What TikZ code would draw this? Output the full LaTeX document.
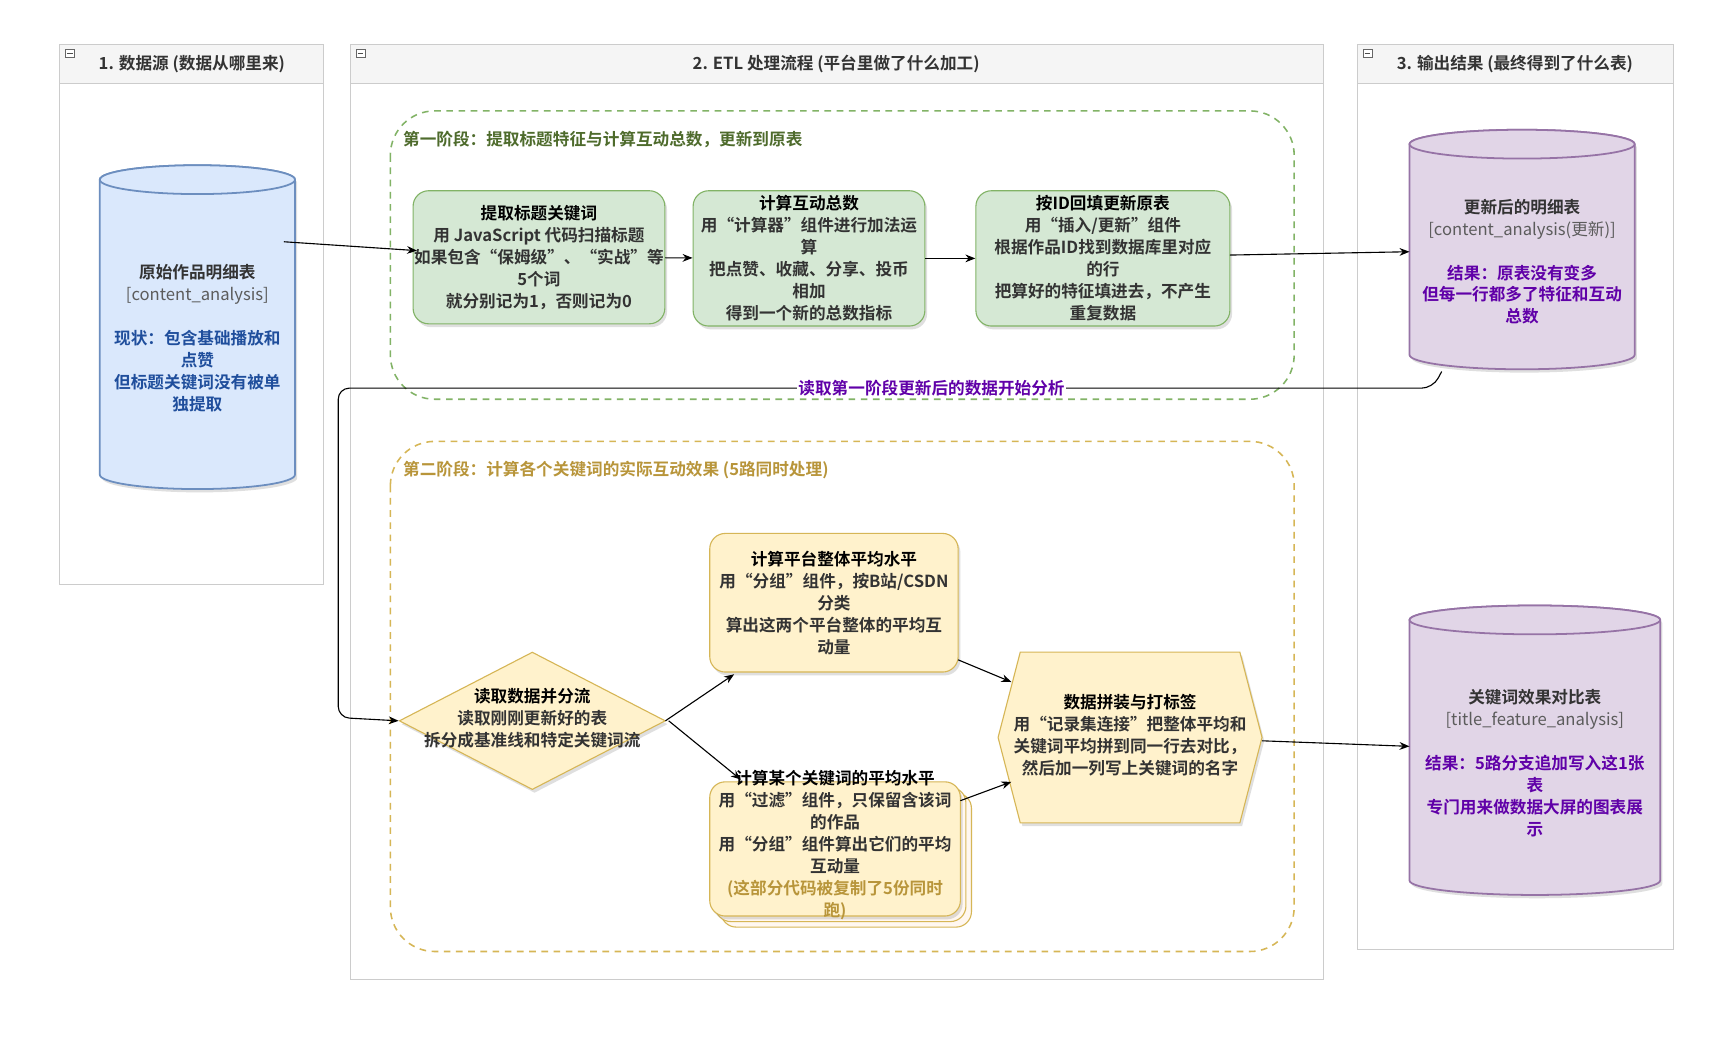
\documentclass[tikz,border=0pt]{standalone}
\usepackage{fontspec}
\setmainfont{Noto Sans CJK SC}[BoldFont={Noto Sans CJK SC Bold}]
\usetikzlibrary{shapes.geometric,shadows,arrows.meta}
\definecolor{txt}{HTML}{333333}
\definecolor{gfill}{HTML}{D5E8D4}\definecolor{gline}{HTML}{82B366}
\definecolor{yfill}{HTML}{FFF2CC}\definecolor{yline}{HTML}{D6B656}
\definecolor{bfill}{HTML}{DAE8FC}\definecolor{bline}{HTML}{6C8EBF}
\definecolor{pfill}{HTML}{E1D5E7}\definecolor{pline}{HTML}{9673A6}
\definecolor{btxt}{HTML}{1F4E9C}\definecolor{ptxt}{HTML}{6000A8}
\definecolor{gtxt}{HTML}{4E6B2C}\definecolor{ytxt}{HTML}{B8953A}
\definecolor{lane}{HTML}{CCCCCC}
\begin{document}
\begin{tikzpicture}[x=1pt,y=-1pt,font=\fontsize{15}{19.8}\selectfont\bfseries,
  lanebox/.style={draw=lane,line width=0.8pt,fill=white},
  lanehead/.style={draw=lane,line width=0.8pt,fill=black!4},
  stage/.style={dashed,dash pattern=on 6pt off 5pt,line width=1.4pt,rounded corners=40pt},
  gbox/.style={draw=gline,fill=gfill,rounded corners=14pt,line width=1pt,align=center,text=txt,inner sep=1pt,drop shadow={opacity=0.25,shadow xshift=2pt,shadow yshift=-3pt}},
  ybox/.style={draw=yline,fill=yfill,rounded corners=14pt,line width=1pt,align=center,text=txt,inner sep=1pt},
  arr/.style={-{Stealth[length=9pt,width=7pt]},line width=1pt},
  cyltext/.style={align=center,text=txt,inner sep=0pt}]
\useasboundingbox (0,0) rectangle (1560,955);
% lanes
\draw[lanebox] (54,40) rectangle (292,527);
\draw[lanehead] (54,40) rectangle (292,75);
\draw[lanebox] (316,40) rectangle (1193,883);
\draw[lanehead] (316,40) rectangle (1193,75);
\draw[lanebox] (1224,40) rectangle (1509,856);
\draw[lanehead] (1224,40) rectangle (1509,75);
\foreach \x in {59,321,1229}{\draw[black!60,fill=white] (\x,44) rectangle ++(8,8); \draw[black!70] (\x+1.5,48)--(\x+6.5,48);}
\node[text=txt] (h1) at (173,58) {1. 数据源 (数据从哪里来)};
\node[text=txt] (h2) at (754,58) {2. ETL 处理流程 (平台里做了什么加工)};
\node[text=txt] (h3) at (1366,58) {3. 输出结果 (最终得到了什么表)};
% stages
\draw[stage,draw=gline] (352,100) rectangle (1167,360);
\node[anchor=west,text=gtxt] (s1) at (360,126) {第一阶段：提取标题特征与计算互动总数，更新到原表};
\draw[stage,draw=yline] (352,398) rectangle (1167,858);
\node[anchor=west,text=ytxt] (s2) at (360,424) {第二阶段：计算各个关键词的实际互动效果 (5路同时处理)};
% left cylinder
\draw[fill=bfill,draw=bline,line width=1.6pt,drop shadow={opacity=0.25,shadow xshift=2pt,shadow yshift=-3pt}] (90,162) arc[start angle=180,end angle=360,x radius=88,y radius=13] -- (266,428) arc[start angle=0,end angle=180,x radius=88,y radius=13] -- cycle;
\draw[fill=bfill,draw=bline,line width=1.6pt] (178,162) ellipse[x radius=88,y radius=13];
\node[cyltext,minimum width=176pt,minimum height=290pt] (src) at (178,294) {};
\node[cyltext] at (178,305) {原始作品明细表\\{\mdseries\color{txt!80}[content\_analysis]}\\[19.8pt]\color{btxt}现状：包含基础播放和\\\color{btxt}点赞\\\color{btxt}但标题关键词没有被单\\\color{btxt}独提取};
% right cylinder 1
\draw[fill=pfill,draw=pline,line width=1.6pt,drop shadow={opacity=0.25,shadow xshift=2pt,shadow yshift=-3pt}] (1271,130) arc[start angle=180,end angle=360,x radius=101.5,y radius=13] -- (1474,320) arc[start angle=0,end angle=180,x radius=101.5,y radius=13] -- cycle;
\draw[fill=pfill,draw=pline,line width=1.6pt] (1372.5,130) ellipse[x radius=101.5,y radius=13];
\node[cyltext,minimum width=203pt,minimum height=216pt] (out1) at (1372.5,225) {};
\node[cyltext] at (1372.5,236) {更新后的明细表\\{\mdseries\color{txt!80}[content\_analysis(更新)]}\\[19.8pt]\color{ptxt}结果：原表没有变多\\\color{ptxt}但每一行都多了特征和互动\\\color{ptxt}总数};
% right cylinder 2
\draw[fill=pfill,draw=pline,line width=1.6pt,drop shadow={opacity=0.25,shadow xshift=2pt,shadow yshift=-3pt}] (1271,559) arc[start angle=180,end angle=360,x radius=113,y radius=13] -- (1497,794) arc[start angle=0,end angle=180,x radius=113,y radius=13] -- cycle;
\draw[fill=pfill,draw=pline,line width=1.6pt] (1384,559) ellipse[x radius=113,y radius=13];
\node[cyltext,minimum width=226pt,minimum height=261pt] (out2) at (1384,676) {};
\node[cyltext] at (1384,688) {关键词效果对比表\\{\mdseries\color{txt!80}[title\_feature\_analysis]}\\[19.8pt]\color{ptxt}结果：5路分支追加写入这1张\\\color{ptxt}表\\\color{ptxt}专门用来做数据大屏的图表展\\\color{ptxt}示};
% stage 1 boxes
\node[gbox,minimum width=220pt,minimum height=120pt] (b1) at (486,232) {\color{black}提取标题关键词\\用 JavaScript 代码扫描标题\\如果包含“保姆级”、“实战”等\\5个词\\就分别记为1，否则记为0};
\node[gbox,minimum width=209pt,minimum height=122pt] (b2) at (729.5,233) {\color{black}计算互动总数\\用“计算器”组件进行加法运\\算\\把点赞、收藏、分享、投币\\相加\\得到一个新的总数指标};
\node[gbox,minimum width=229pt,minimum height=122pt] (b3) at (994.5,233) {\color{black}按ID回填更新原表\\用“插入/更新”组件\\根据作品ID找到数据库里对应\\的行\\把算好的特征填进去，不产生\\重复数据};
% stage 2
\node[diamond,draw=yline,fill=yfill,line width=1pt,minimum width=240pt,minimum height=124pt,inner sep=0pt,aspect=1.94,drop shadow={opacity=0.25,shadow xshift=2pt,shadow yshift=-3pt}] (d) at (480,650) {};
\node[align=center,text=txt] at (480,648) {\color{black}读取数据并分流\\读取刚刚更新好的表\\拆分成基准线和特定关键词流};
\node[ybox,minimum width=224pt,minimum height=125pt,drop shadow={opacity=0.25,shadow xshift=2pt,shadow yshift=-3pt}] (t) at (752,543.5) {\color{black}计算平台整体平均水平\\用“分组”组件，按B站/CSDN\\分类\\算出这两个平台整体的平均互\\动量};
\draw[draw=yline,fill=orange!6,rounded corners=14pt,line width=1pt] (650,715) rectangle (876,836);
\draw[draw=yline,fill=orange!6,rounded corners=14pt,line width=1pt] (645,710) rectangle (871,831);
\node[ybox,minimum width=226pt,minimum height=121pt,drop shadow={opacity=0.25,shadow xshift=2pt,shadow yshift=-3pt}] (k) at (753,765.5) {};
\node[align=center,text=txt] at (753,762) {\color{black}计算某个关键词的平均水平\\用“过滤”组件，只保留含该词\\的作品\\用“分组”组件算出它们的平均\\互动量\\\color{ytxt}(这部分代码被复制了5份同时\\\color{ytxt}跑)};
\draw[draw=yline,fill=yfill,line width=1pt,drop shadow={opacity=0.25,shadow xshift=2pt,shadow yshift=-3pt}] (900,665)--(920,588)--(1118,588)--(1138,665)--(1118,742)--(920,742)--cycle;
\node[minimum width=238pt,minimum height=154pt,inner sep=0pt] (hx) at (1019,665) {};
\node[align=center,text=txt] at (1019,663) {\color{black}数据拼装与打标签\\用“记录集连接”把整体平均和\\关键词平均拼到同一行去对比，\\然后加一列写上关键词的名字};
% connectors
\coordinate (p0) at (256,218);
\coordinate (p1) at (376,226);
\coordinate (p2) at (1109,230);
\coordinate (p3) at (1271,227);
\draw[arr] (p0) -- (p1);
\draw[arr] (b1) -- (b2);
\draw[arr] (b2) -- (b3);
\draw[arr] (p2) -- (p3);
\coordinate (c1) at (1300,335);
\draw[arr,rounded corners=10pt] (c1) -- (1292,350) -- (305,350) -- (305,647) -- (d.west);
\node[fill=white,text=ptxt,inner sep=1pt] (lbl) at (840,350) {读取第一阶段更新后的数据开始分析};
\coordinate (q1) at (600,650);
\coordinate (q2) at (662,608);
\coordinate (q3) at (603,650);
\coordinate (q4) at (668,703);
\coordinate (q5) at (864,595);
\coordinate (q6) at (912,615);
\coordinate (q7) at (866,722);
\coordinate (q8) at (912,705);
\coordinate (q9) at (1138,668);
\coordinate (q10) at (1271,673);
\draw[arr] (q1) -- (q2);
\draw[arr] (q3) -- (q4);
\draw[arr] (q5) -- (q6);
\draw[arr] (q7) -- (q8);
\draw[arr] (q9) -- (q10);
\end{tikzpicture}
\end{document}
